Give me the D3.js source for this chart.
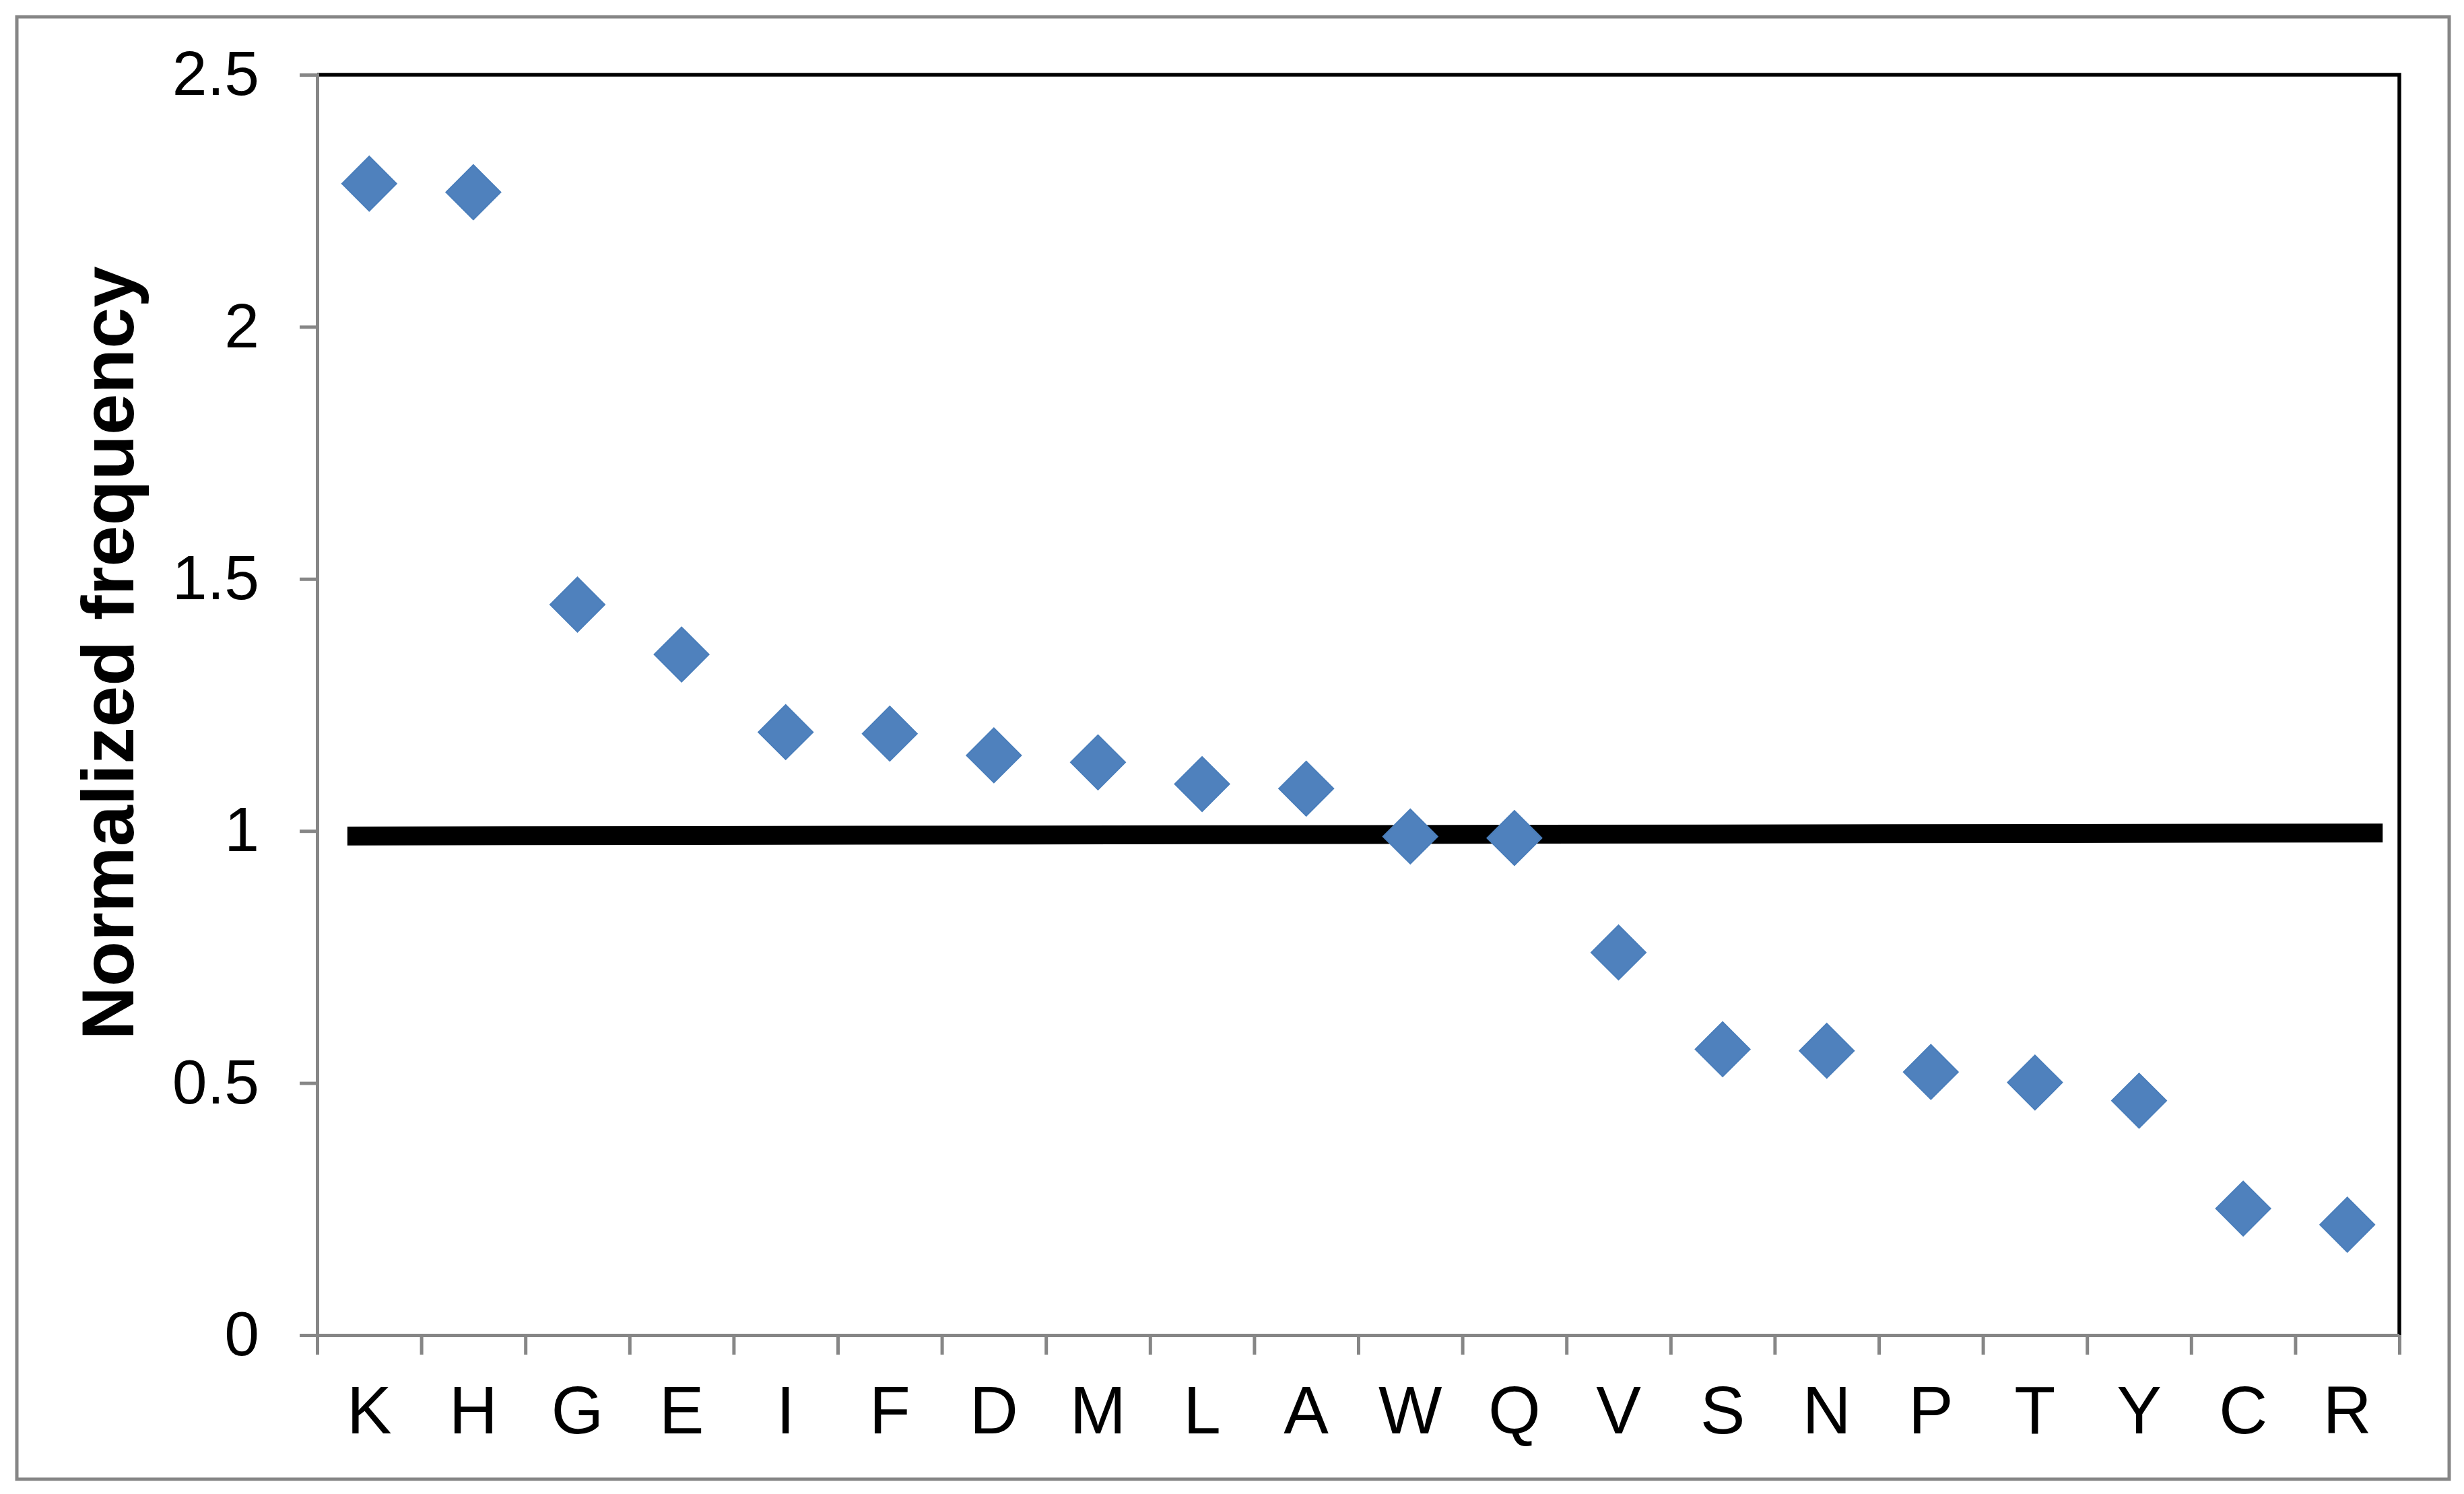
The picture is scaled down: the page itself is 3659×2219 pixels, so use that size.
<!DOCTYPE html>
<html>
<head>
<meta charset="utf-8">
<script src="https://cdn.jsdelivr.net/npm/d3@7"></script>
<style>
  body { margin: 0; background: #fff; }
  text { font-family: "Liberation Sans", Arial, sans-serif; }
</style>
</head>
<body>
<div id="chart"></div>
<script>
// amino acids, ordered as in the figure
const residues = ["K", "H", "G", "E", "I", "F", "D", "M", "L", "A",
                  "W", "Q", "V", "S", "N", "P", "T", "Y", "C", "R"];
const freq = [2.284, 2.267, 1.449, 1.350, 1.196, 1.193, 1.150, 1.136, 1.093, 1.084,
              0.989, 0.986, 0.759, 0.567, 0.564, 0.522, 0.501, 0.465, 0.251, 0.219];
const yTicks = [0, 0.5, 1, 1.5, 2, 2.5];

// reference line (x in category-index units, y in frequency)
const refX = [0.29, 19.84];
const refY = [0.990, 0.996];

const W = 3659, H = 2219;
const margin = { left: 471, right: W - 3563, top: 111, bottom: H - 1983 };
const grey = "#868686";

const svg = d3.select("#chart").append("svg")
  .attr("width", W)
  .attr("height", H);

svg.append("rect").attr("width", W).attr("height", H).attr("fill", "#fff");

// outer chart border
svg.append("rect")
  .attr("x", 25).attr("y", 25)
  .attr("width", 3637 - 25).attr("height", 2197 - 25)
  .attr("fill", "none")
  .attr("stroke", grey)
  .attr("stroke-width", 5);

const x = d3.scaleBand()
  .domain(residues)
  .range([margin.left, W - margin.right])
  .padding(0);

const xIdx = d3.scaleLinear()
  .domain([0, residues.length])
  .range([margin.left, W - margin.right]);

const y = d3.scaleLinear()
  .domain([0, 2.5])
  .range([H - margin.bottom, margin.top]);

// black frame on top and right of the plot area
svg.append("path")
  .attr("d", `M${margin.left},${margin.top}H${W - margin.right}V${H - margin.bottom}`)
  .attr("fill", "none")
  .attr("stroke", "#000")
  .attr("stroke-width", 5.5);

// y axis
const yAxis = svg.append("g")
  .attr("transform", `translate(${margin.left},0)`)
  .call(d3.axisLeft(y).tickValues(yTicks).tickSize(26).tickPadding(60).tickFormat(d => String(d)));
yAxis.selectAll("path, line").attr("stroke", grey).attr("stroke-width", 5);
yAxis.selectAll("text")
  .attr("font-size", 93)
  .attr("fill", "#000")
  .style("font-family", "'Liberation Sans', Arial, sans-serif");

// x axis: tick marks at category boundaries
const xTickAxis = svg.append("g")
  .attr("transform", `translate(0,${H - margin.bottom})`)
  .call(d3.axisBottom(xIdx).tickValues(d3.range(residues.length + 1)).tickSize(29).tickFormat(""));
xTickAxis.selectAll("path, line").attr("stroke", grey).attr("stroke-width", 5);
xTickAxis.select(".domain").attr("d", `M${margin.left - 26},0.5H${W - margin.right}`);

// x axis labels
const xLabAxis = svg.append("g")
  .attr("transform", `translate(0,${H - margin.bottom})`)
  .call(d3.axisBottom(x).tickSize(0).tickPadding(75));
xLabAxis.select(".domain").remove();
xLabAxis.selectAll("text")
  .attr("font-size", 100)
  .attr("fill", "#000")
  .style("font-family", "'Liberation Sans', Arial, sans-serif");

// y axis title
svg.append("text")
  .attr("transform", `translate(198,970) rotate(-90)`)
  .attr("text-anchor", "middle")
  .attr("font-size", 110)
  .attr("font-weight", "bold")
  .attr("fill", "#000")
  .text("Normalized frequency");

// reference line at ~1
const refData = refX.map((v, i) => [v, refY[i]]);
svg.append("path")
  .datum(refData)
  .attr("d", d3.line().x(d => xIdx(d[0])).y(d => y(d[1])))
  .attr("fill", "none")
  .attr("stroke", "#000")
  .attr("stroke-width", 28);

// diamond markers
const diamond = d3.symbol().type(d3.symbolSquare).size(3280);
svg.append("g")
  .selectAll("path")
  .data(residues)
  .join("path")
  .attr("transform", (d, i) => `translate(${x(d) + x.bandwidth() / 2},${y(freq[i])}) rotate(45)`)
  .attr("d", diamond)
  .attr("fill", "#4F81BD")
  .attr("stroke", "#4A7EBB")
  .attr("stroke-width", 2);
</script>
</body>
</html>
